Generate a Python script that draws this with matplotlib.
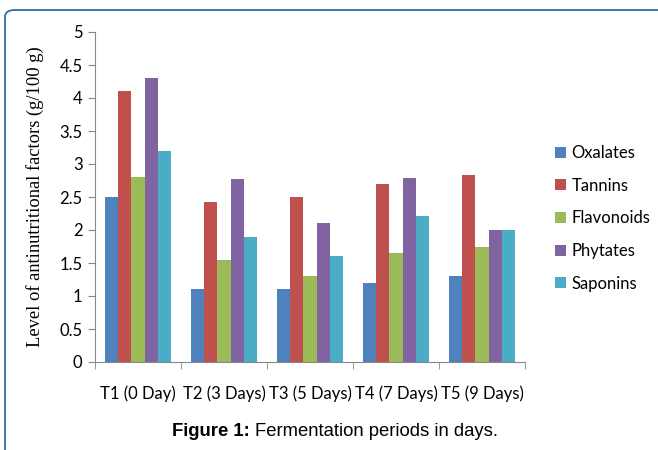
import matplotlib
matplotlib.use("Agg")
import matplotlib.pyplot as plt
import numpy as np
from matplotlib.patches import FancyBboxPatch

categories = ["T1 (0 Day)", "T2 (3 Days)", "T3 (5 Days)", "T4 (7 Days)", "T5 (9 Days)"]
series_names = ["Oxalates", "Tannins", "Flavonoids", "Phytates", "Saponins"]
oxalates = [2.5, 1.1, 1.1, 1.2, 1.31]
tannins = [4.1, 2.42, 2.5, 2.7, 2.84]
flavonoids = [2.8, 1.55, 1.3, 1.65, 1.74]
phytates = [4.3, 2.77, 2.1, 2.79, 2.0]
saponins = [3.2, 1.9, 1.6, 2.21, 2.0]
yticks = [0, 0.5, 1, 1.5, 2, 2.5, 3, 3.5, 4, 4.5, 5]
ytick_labels = ["0", "0.5", "1", "1.5", "2", "2.5", "3", "3.5", "4", "4.5", "5"]

colors = ["#4F81BD", "#C0504D", "#9BBB59", "#8064A2", "#4BACC6"]
series = [oxalates, tannins, flavonoids, phytates, saponins]

W, H = 658, 450
fig = plt.figure(figsize=(W / 100, H / 100), dpi=100)
fig.patch.set_facecolor("white")

# frame
frame = FancyBboxPatch((5 / W, -0.2), 1.2, (H - 10) / H + 0.2,
                       boxstyle="round,pad=0,rounding_size=0.015",
                       transform=fig.transFigure, facecolor="none",
                       edgecolor="#2E6DA4", linewidth=1.3)
fig.patches.append(frame)

tick_font = "Lato"
ax = fig.add_axes([95 / W, 1 - 362 / H, (525 - 95) / W, (362 - 32) / H])
x = np.arange(len(categories))
bw = 0.152
for i, (name, vals, c) in enumerate(zip(series_names, series, colors)):
    ax.bar(x + (i - 2) * bw, vals, bw, color=c, label=name, linewidth=0)

ax.set_xlim(-0.5, len(categories) - 0.5)
ax.set_ylim(0, 5)
ax.set_yticks(yticks)
ax.set_yticklabels(ytick_labels, fontsize=12, family=tick_font)
ax.set_xticks(x)
ax.set_xticklabels(categories, fontsize=12, family=tick_font)
ax.set_xticks(np.arange(len(categories) + 1) - 0.5, minor=True)
ax.tick_params(axis="x", which="major", length=0, pad=17)
ax.tick_params(axis="x", which="minor", length=5, color="#888888")
ax.tick_params(axis="y", length=5, color="#888888", pad=4)
for s in ["top", "right"]:
    ax.spines[s].set_visible(False)
for s in ["left", "bottom"]:
    ax.spines[s].set_color("#888888")

ax.set_ylabel("Level of antinutritional factors (g/100 g)", family="Liberation Serif",
              fontsize=13.3, labelpad=11)

fig.legend(loc="upper left", bbox_to_anchor=(540 / W, 1 - 130 / H), frameon=False,
           prop={"family": tick_font, "size": 12}, handlelength=0.65,
           handleheight=0.65, handletextpad=0.35, labelspacing=1.0)

fig.text(172 / W, 1 - 431 / H, "Figure 1:", ha="left", va="center", fontsize=13.3,
         family="Liberation Sans", fontweight="bold")
fig.text(255 / W, 1 - 431 / H, "Fermentation periods in days.", ha="left", va="center",
         fontsize=13.3, family="Liberation Sans")

fig.savefig("out.png", dpi=100)
